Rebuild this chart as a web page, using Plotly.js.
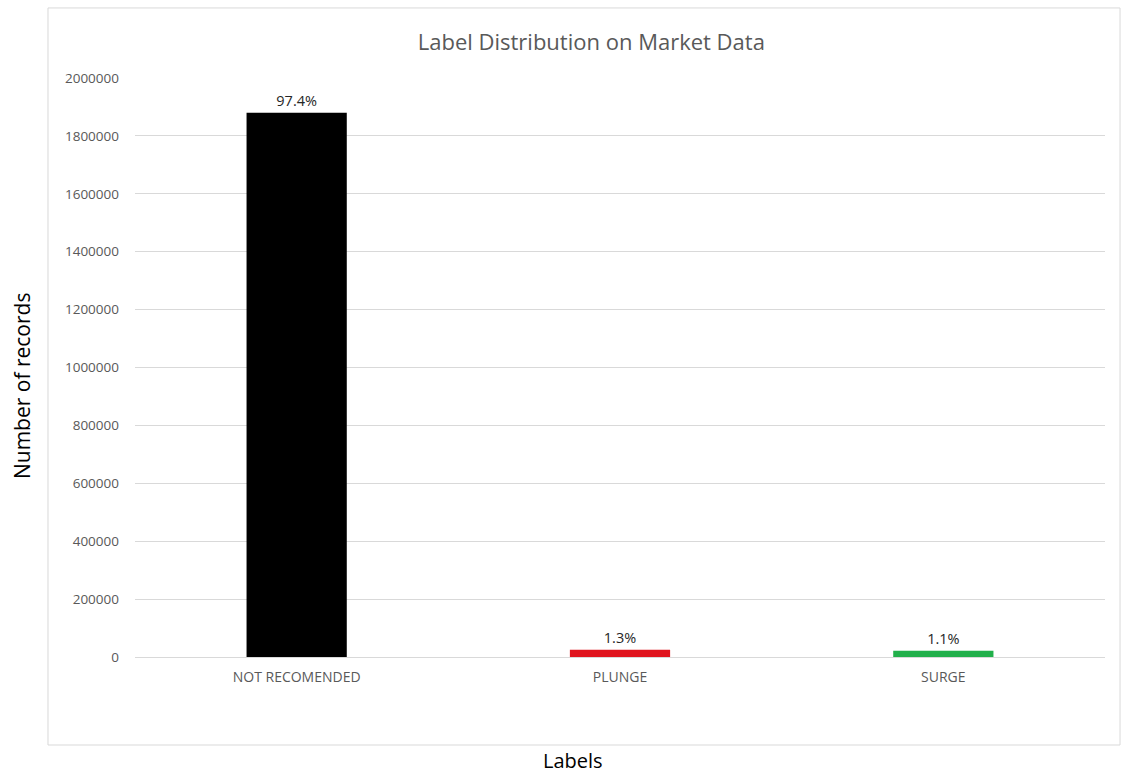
<!DOCTYPE html>
<html>
<head>
<meta charset="utf-8">
<script src="https://cdn.plot.ly/plotly-3.0.1.min.js"></script>
<style>html,body{margin:0;padding:0;background:#fff;}#chart{width:1122px;height:776px;}</style>
</head>
<body>
<div id="chart"></div>
<script>
const categories = ["NOT RECOMENDED", "PLUNGE", "SURGE"];
const counts = [1880000, 25000, 21500];
const percentLabels = ["97.4%", "1.3%", "1.1%"];
const barColors = ["#000000", "#e0141e", "#22b04b"];
const yTicks = [0, 200000, 400000, 600000, 800000, 1000000, 1200000, 1400000, 1600000, 1800000, 2000000];

const FONT = "Open Sans, Noto Sans, sans-serif";

const trace = {
  type: "bar",
  x: categories,
  y: counts,
  text: percentLabels,
  textposition: "outside",
  cliponaxis: false,
  textfont: {family: FONT, size: 14.5, color: "#262626"},
  marker: {color: barColors},
  hoverinfo: "x+y"
};

const layout = {
  width: 1122, height: 776,
  margin: {l: 135, r: 17, t: 78, b: 119},
  paper_bgcolor: "#ffffff", plot_bgcolor: "#ffffff",
  bargap: 0.69,
  showlegend: false,
  title: {text: "Label Distribution on Market Data", x: 0.527, xanchor: "center", y: 0.946, yanchor: "middle",
          font: {family: FONT, size: 22, color: "#595959"}},
  xaxis: {
    range: [-0.5, 2.5], showgrid: false, showline: false, zeroline: false, ticks: "",
    tickfont: {family: FONT, size: 14, color: "#595959"},
    ticklabelstandoff: 10
  },
  yaxis: {
    range: [0, 2000000], tickvals: yTicks, ticktext: yTicks.map(String),
    showgrid: true, gridcolor: "#d9d9d9", gridwidth: 1,
    zeroline: true, zerolinecolor: "#d9d9d9", zerolinewidth: 1,
    showline: false, ticks: "",
    tickfont: {family: FONT, size: 13.5, color: "#595959"},
    ticklabelstandoff: 15
  },
  shapes: [{
    type: "rect", xref: "paper", yref: "paper",
    x0: -0.0897, x1: 1.0155, y0: -0.152, y1: 1.121,
    line: {color: "#d9d9d9", width: 1}, fillcolor: "rgba(0,0,0,0)", layer: "below"
  }],
  annotations: [
    {text: "Number of records", xref: "paper", yref: "paper", x: -0.1165, y: 0.468,
     textangle: -90, showarrow: false, xanchor: "center", yanchor: "middle",
     font: {family: FONT, size: 21, color: "#000000"}},
    {text: "Labels", xref: "paper", yref: "paper", x: 0.4515, y: -0.1795,
     showarrow: false, xanchor: "center", yanchor: "middle", borderpad: 0,
     font: {family: FONT, size: 20, color: "#000000"}}
  ]
};

Plotly.newPlot("chart", [trace], layout, {displayModeBar: false});
</script>
</body>
</html>
